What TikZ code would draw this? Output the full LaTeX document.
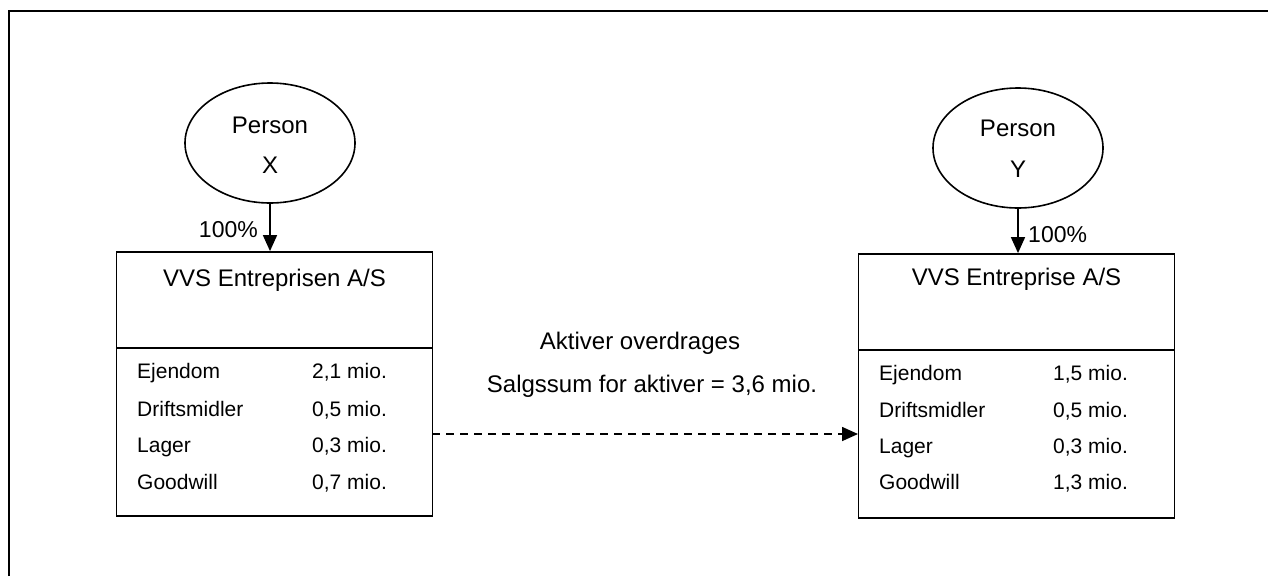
\documentclass[tikz,border=0pt]{standalone}
\usepackage{fontspec}
\setmainfont{Liberation Sans}
\usetikzlibrary{shapes.geometric,arrows.meta}
\begin{document}
\begin{tikzpicture}[x=1pt,y=-1pt,
  owner/.style={draw,line width=1.6pt,ellipse,minimum width=170pt,minimum height=120pt,inner sep=0pt},
  company/.style={draw,line width=1.8pt,rectangle,minimum width=316pt,minimum height=264pt,inner sep=0pt},
  bigtxt/.style={font=\fontsize{24}{28}\selectfont,inner sep=0pt},
  rowtxt/.style={font=\fontsize{21}{25}\selectfont,inner sep=0pt,anchor=base west},
  own/.style={line width=1.6pt,-{Triangle[width=14pt,length=16pt]}},
  transfer/.style={line width=1.6pt,dash pattern=on 8pt off 6pt,-{Triangle[width=14pt,length=16pt]}}
]
\useasboundingbox (0,0) rectangle (1268,576);
\fill[white] (0,0) rectangle (1268,576);

% page frame (top and left edges)
\coordinate (fr) at (9,11);
\coordinate (frR) at (1268,11);
\coordinate (frB) at (9,576);
\draw[line width=2.6pt] (frB) -- (fr) -- (frR);

% owners
\node[owner] (px) at (270,143) {};
\node[bigtxt,anchor=base] (pxa) at (270,133) {Person};
\node[bigtxt,anchor=base] (pxb) at (270,173) {X};

\node[owner] (py) at (1018,148) {};
\node[bigtxt,anchor=base] (pya) at (1018,136) {Person};
\node[bigtxt,anchor=base] (pyb) at (1018,177) {Y};

% companies
\node[company] (cx) at (274.5,384) {};
\node[company] (cy) at (1016.5,386) {};
\coordinate (cxl) at (117,348);
\coordinate (cxr) at (432,348);
\coordinate (cyl) at (858,350);
\coordinate (cyr) at (1175,350);
\draw[line width=1.8pt] (cxl) -- (cxr);
\draw[line width=1.8pt] (cyl) -- (cyr);

\node[bigtxt,anchor=base] (cxt) at (274.5,286) {VVS Entreprisen A/S};
\node[bigtxt,anchor=base] (cyt) at (1016.5,285) {VVS Entreprise A/S};

% asset rows, seller
\node[rowtxt] (xa1) at (137,378) {Ejendom};
\node[rowtxt] (xa2) at (137,416) {Driftsmidler};
\node[rowtxt] (xa3) at (137,452) {Lager};
\node[rowtxt] (xa4) at (137,489) {Goodwill};
\node[rowtxt] (xv1) at (312,378) {2,1 mio.};
\node[rowtxt] (xv2) at (312,416) {0,5 mio.};
\node[rowtxt] (xv3) at (312,452) {0,3 mio.};
\node[rowtxt] (xv4) at (312,489) {0,7 mio.};

% asset rows, buyer
\node[rowtxt] (ya1) at (879,380) {Ejendom};
\node[rowtxt] (ya2) at (879,417) {Driftsmidler};
\node[rowtxt] (ya3) at (879,453) {Lager};
\node[rowtxt] (ya4) at (879,489) {Goodwill};
\node[rowtxt] (yv1) at (1053,380) {1,5 mio.};
\node[rowtxt] (yv2) at (1053,417) {0,5 mio.};
\node[rowtxt] (yv3) at (1053,453) {0,3 mio.};
\node[rowtxt] (yv4) at (1053,489) {1,3 mio.};

% ownership arrows
\draw[own] (px.south) -- (px.south |- cx.north);
\draw[own] (py.south) -- (py.south |- cy.north);
\node[font=\fontsize{23}{27}\selectfont,inner sep=0pt,anchor=base east] (ox) at (258,237) {100\%};
\node[font=\fontsize{23}{27}\selectfont,inner sep=0pt,anchor=base west] (oy) at (1028,242) {100\%};

% asset transfer
\coordinate (ts) at (432,434);
\coordinate (te) at (858,434);
\draw[transfer] (ts) -- (te);
\node[bigtxt,anchor=base] (t1) at (640,349) {Aktiver overdrages};
\node[bigtxt,anchor=base] (t2) at (652,392) {Salgssum for aktiver = 3,6 mio.};
\end{tikzpicture}
\end{document}
